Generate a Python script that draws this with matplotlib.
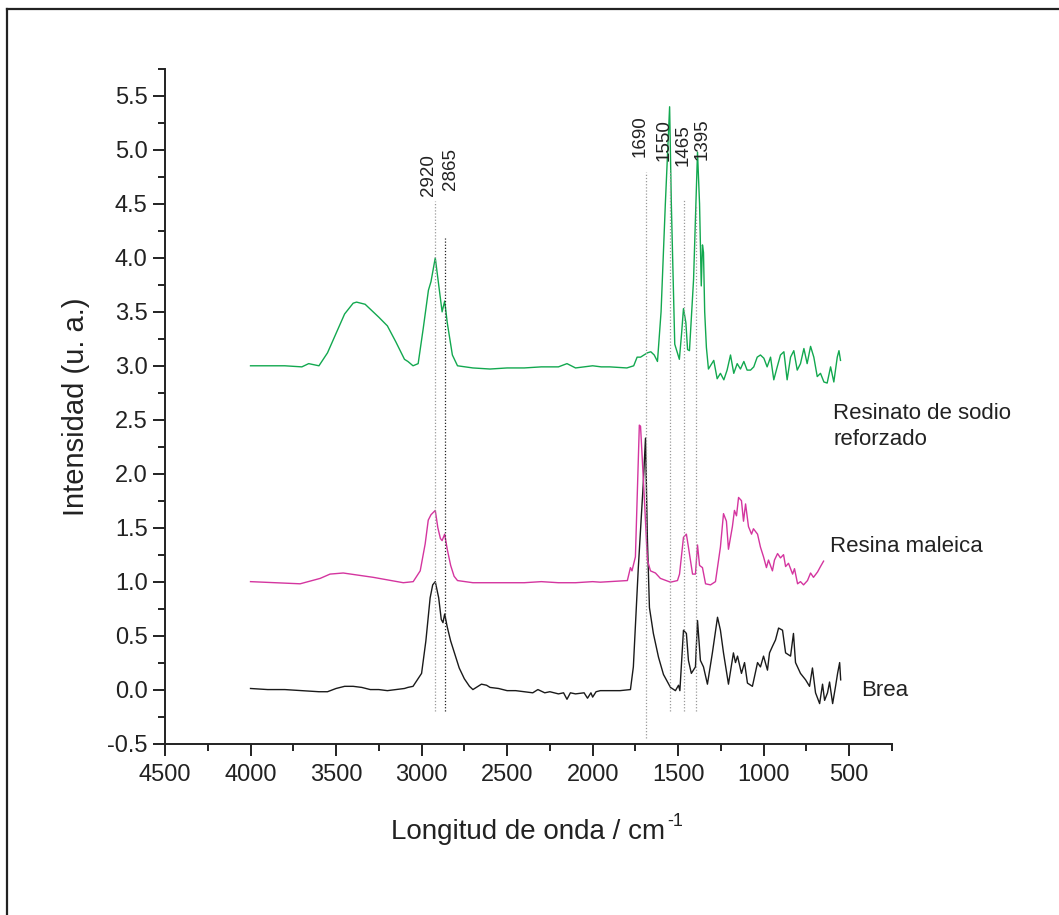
import numpy as np
import matplotlib
matplotlib.use("Agg")
import matplotlib.pyplot as plt
from matplotlib.lines import Line2D
from matplotlib.ticker import MultipleLocator, FormatStrFormatter

plt.rcParams["font.family"] = ["Liberation Sans", "DejaVu Sans"]

# --- Brea (black), baseline 0 ---
brea_x = [4000, 3900, 3800, 3700, 3600, 3550, 3500, 3450, 3400, 3350, 3300, 3250, 3200,
          3150, 3100, 3080, 3050, 3000, 2975, 2950, 2935, 2920, 2900, 2885, 2875, 2865,
          2850, 2830, 2800, 2780, 2750, 2720, 2700, 2680, 2650, 2620, 2600, 2550, 2500,
          2450, 2400, 2350, 2320, 2280, 2250, 2200, 2170, 2150, 2130, 2100, 2050, 2030,
          2010, 2000, 1980, 1955, 1900, 1840, 1779, 1762, 1733, 1704, 1691, 1680, 1668,
          1645, 1615, 1586, 1545, 1516, 1498, 1490, 1469, 1452, 1440, 1423, 1399, 1387,
          1370, 1352, 1329, 1300, 1270, 1253, 1235, 1206, 1177, 1165, 1153, 1130, 1112,
          1095, 1066, 1036, 1019, 1001, 978, 966, 949, 931, 913, 890, 872, 843, 826, 814,
          785, 755, 732, 715, 697, 673, 656, 644, 627, 615, 597, 580, 568, 556, 550]
brea_y = [0.01, 0.00, 0.00, -0.01, -0.02, -0.02, 0.01, 0.03, 0.03, 0.02, 0.00, 0.00, -0.01,
          0.00, 0.01, 0.02, 0.03, 0.15, 0.45, 0.85, 0.97, 1.00, 0.85, 0.65, 0.62, 0.70,
          0.58, 0.45, 0.30, 0.20, 0.10, 0.03, 0.00, 0.02, 0.05, 0.04, 0.02, 0.01, -0.01,
          -0.01, -0.02, -0.03, 0.00, -0.03, -0.02, -0.04, -0.03, -0.09, -0.03, -0.04, -0.03, -0.08,
          -0.03, -0.07, -0.02, -0.01, -0.01, -0.01, 0.00, 0.21, 1.13, 1.91, 2.33, 1.40, 0.76,
          0.52, 0.30, 0.14, 0.02, -0.01, 0.04, -0.01, 0.55, 0.52, 0.27, 0.15, 0.21, 0.64,
          0.27, 0.21, 0.05, 0.34, 0.67, 0.55, 0.34, 0.05, 0.34, 0.25, 0.31, 0.15, 0.25,
          0.06, 0.03, 0.25, 0.21, 0.31, 0.18, 0.34, 0.40, 0.46, 0.57, 0.55, 0.34, 0.31, 0.52, 0.25,
          0.15, 0.09, 0.03, 0.20, -0.03, -0.13, 0.05, -0.10, -0.03, 0.07, -0.13, 0.03, 0.15, 0.25, 0.09]

# --- Resina maleica (magenta), baseline 1 ---
maleica_x = [4000, 3710, 3593, 3535, 3458, 3283, 3107, 3049, 3008, 2979, 2961, 2945, 2920,
             2905, 2890, 2880, 2865, 2850, 2830, 2810, 2790, 2700, 2600, 2500, 2400, 2300,
             2200, 2100, 2000, 1955, 1797, 1779, 1770, 1750, 1727, 1720, 1697, 1680, 1662,
             1633, 1604, 1545, 1504, 1492, 1469, 1452, 1440, 1416, 1399, 1387, 1375, 1358,
             1340, 1311, 1282, 1253, 1235, 1218, 1206, 1183, 1171, 1159, 1147, 1130, 1118,
             1106, 1089, 1071, 1060, 1036, 1019, 1001, 984, 972, 949, 937, 919, 902, 884,
             872, 855, 831, 820, 802, 785, 767, 744, 726, 709, 685, 668, 650]
maleica_y = [1.00, 0.98, 1.03, 1.07, 1.08, 1.04, 0.99, 1.00, 1.10, 1.35, 1.57, 1.62, 1.66,
             1.50, 1.40, 1.38, 1.44, 1.30, 1.15, 1.05, 1.01, 0.99, 0.99, 0.99, 0.99, 1.00,
             0.99, 0.99, 1.00, 0.995, 1.01, 1.13, 1.10, 1.23, 2.45, 2.44, 1.75, 1.20, 1.10,
             1.08, 1.03, 0.995, 1.01, 1.07, 1.41, 1.44, 1.32, 1.07, 1.07, 1.34, 1.15, 1.13,
             0.98, 0.97, 1.00, 1.32, 1.63, 1.56, 1.30, 1.51, 1.66, 1.61, 1.78, 1.75, 1.56,
             1.72, 1.51, 1.44, 1.49, 1.44, 1.32, 1.23, 1.13, 1.20, 1.10, 1.20, 1.26, 1.22, 1.25,
             1.14, 1.17, 1.07, 1.12, 0.98, 1.00, 0.97, 1.01, 1.08, 1.04, 1.09, 1.14, 1.19]

# --- Resinato de sodio reforzado (green), baseline 3 ---
sodio_x = [4000, 3800, 3700, 3660, 3630, 3600, 3550, 3500, 3450, 3400, 3380, 3330, 3250,
           3200, 3150, 3100, 3080, 3050, 3020, 2990, 2960, 2945, 2920, 2900, 2880, 2865,
           2850, 2820, 2790, 2700, 2600, 2500, 2400, 2300, 2200, 2150, 2100, 2000, 1950,
           1900, 1800, 1760, 1740, 1720, 1700, 1680, 1660, 1640, 1621, 1600, 1575, 1550,
           1540, 1520, 1493, 1480, 1469, 1455, 1445, 1434, 1410, 1387, 1375, 1365, 1358,
           1352, 1345, 1335, 1323, 1292, 1272, 1253, 1233, 1214, 1194, 1175, 1155, 1136,
           1116, 1097, 1077, 1058, 1038, 1019, 999, 980, 960, 941, 921, 902, 882, 863,
           843, 824, 804, 785, 765, 746, 726, 707, 687, 668, 648, 629, 609, 590, 570, 560, 551]
sodio_y = [3.00, 3.00, 2.99, 3.02, 3.01, 3.00, 3.12, 3.30, 3.48, 3.58, 3.59, 3.57, 3.45,
           3.37, 3.22, 3.06, 3.04, 3.00, 3.02, 3.35, 3.70, 3.78, 4.00, 3.75, 3.50, 3.60,
           3.40, 3.10, 3.00, 2.98, 2.97, 2.98, 2.98, 2.99, 2.99, 3.02, 2.98, 3.00, 2.99,
           2.99, 2.98, 3.00, 3.08, 3.08, 3.10, 3.12, 3.13, 3.10, 3.04, 3.50, 4.50, 5.40,
           4.50, 3.20, 3.06, 3.30, 3.53, 3.40, 3.15, 3.14, 3.80, 4.98, 4.50, 3.74, 4.12,
           4.05, 3.50, 3.17, 2.97, 3.05, 2.88, 2.93, 2.87, 2.96, 3.10, 2.93, 3.02, 2.97,
           3.04, 2.96, 2.96, 2.99, 3.08, 3.10, 3.07, 2.99, 3.08, 2.87, 2.99, 3.10, 3.13, 2.87,
           3.08, 3.14, 2.96, 3.02, 3.16, 3.02, 3.18, 3.08, 2.90, 2.93, 2.85, 2.84, 2.99, 2.85,
           3.08, 3.14, 3.05]

# peak markers
peaks = [2920, 2865, 1690, 1550, 1465, 1395]
peak_top = [4.53, 4.18, 4.80, 4.81, 4.55, 4.49]
peak_bottom = [-0.20, -0.20, -0.45, -0.20, -0.20, -0.20]
peak_label_y = [4.57, 4.63, 4.93, 4.90, 4.85, 4.91]
peak_colors = ["#9a9a9a", "#222222", "#9a9a9a", "#9a9a9a", "#9a9a9a", "#9a9a9a"]
peak_nudge = [-5, 4, -4, -4, -0.5, 4.5]

fig = plt.figure(figsize=(10.59, 9.15), dpi=100)
ax = fig.add_axes([0.1558, 0.1874, 0.8423 - 0.1558, 0.9246 - 0.1874])

ax.plot(brea_x, brea_y, color="#1a1a1a", lw=1.0)
ax.plot(maleica_x, maleica_y, color="#d4359f", lw=1.0)
ax.plot(sodio_x, sodio_y, color="#12a84f", lw=1.0)

for p, t, b, c in zip(peaks, peak_top, peak_bottom, peak_colors):
    ax.vlines(p, b, t, colors=c, linestyles=(0, (1, 1.5)), lw=0.9)
for p, ly, dx in zip(peaks, peak_label_y, peak_nudge):
    ax.annotate(str(p), (p, ly), xytext=(dx, 0), textcoords="offset points",
                rotation=90, ha="center", va="bottom", fontsize=13.5, color="#222222")

ax.text(592, 2.44, "Resinato de sodio\nreforzado", fontsize=16, ha="left", va="center",
        color="#222222", linespacing=1.3)
ax.text(615, 1.33, "Resina maleica", fontsize=16, ha="left", va="center", color="#222222")
ax.text(428, -0.01, "Brea", fontsize=16, ha="left", va="center", color="#222222")

ax.set_xlim(4500, 250)
ax.set_ylim(-0.5, 5.75)
ax.xaxis.set_major_locator(MultipleLocator(500))
ax.xaxis.set_minor_locator(MultipleLocator(250))
ax.yaxis.set_major_locator(MultipleLocator(0.5))
ax.yaxis.set_minor_locator(MultipleLocator(0.25))
ax.yaxis.set_major_formatter(FormatStrFormatter("%.1f"))

for s in ["top", "right"]:
    ax.spines[s].set_visible(False)
for s in ["left", "bottom"]:
    ax.spines[s].set_linewidth(1.4)
    ax.spines[s].set_color("#222222")
ax.tick_params(which="major", direction="out", length=8.5, width=1.4, labelsize=17,
               color="#222222", labelcolor="#222222")
ax.tick_params(which="minor", direction="out", length=5, width=1.4, color="#222222")
ax.tick_params(axis="y", pad=4)
ax.tick_params(axis="x", pad=6)

ax.set_xlabel("Longitud de onda / cm", fontsize=20, color="#222222", labelpad=24)
# hyphen-style superscript, as in the original
ax.annotate("-1", xy=(1, 1), xycoords=ax.xaxis.label, xytext=(1, -2),
            textcoords="offset points", ha="left", va="center", fontsize=13, color="#222222")
ax.set_ylabel("Intensidad (u. a.)", fontsize=21, color="#222222", labelpad=12)

# outer frame (cropped at right and bottom)
fy = 1 - 8.5 / 915
fx = 6.5 / 1059
fig.add_artist(Line2D([fx, fx], [0, fy], transform=fig.transFigure, color="#222222", lw=1.6))
fig.add_artist(Line2D([fx, 1], [fy, fy], transform=fig.transFigure, color="#222222", lw=1.6))

fig.savefig("out.png", dpi=100)
